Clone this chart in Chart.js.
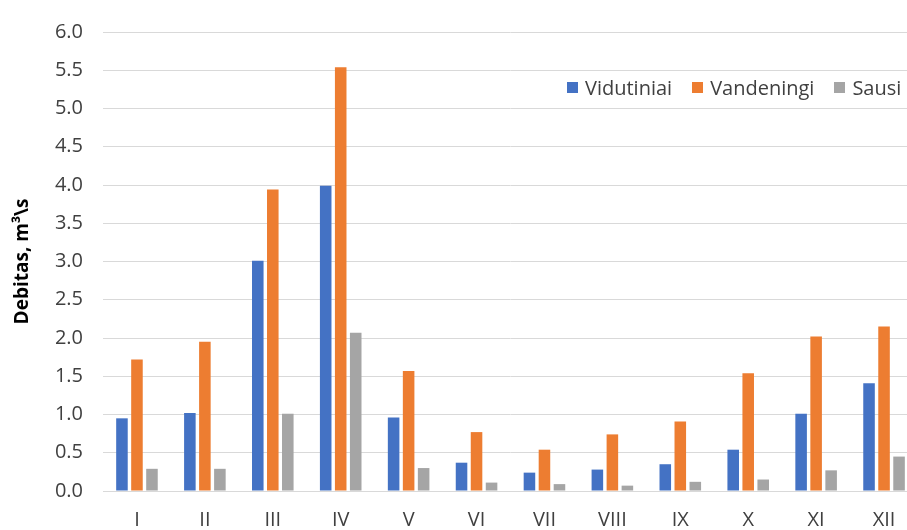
<!DOCTYPE html>
<html>
<head>
<meta charset="utf-8">
<script src="https://cdn.jsdelivr.net/npm/chart.js@4"></script>
<style>
  html, body { margin: 0; padding: 0; background: #fff; overflow: hidden; }
  .wrap { position: relative; width: 918px; height: 530px; }
  .legend { position: absolute; left: 567px; top: 74px; display: flex; align-items: center;
    font-family: "Open Sans", sans-serif; font-size: 20px; line-height: 27px; color: #404040; }
  .legend span.item { display: flex; align-items: center; margin-right: 20px; }
  .legend span.box { width: 11px; height: 11px; margin-right: 7px; display: inline-block; }
</style>
</head>
<body>
<div class="wrap">
  <canvas id="chart" width="918" height="530"></canvas>
  <div class="legend" id="legend"></div>
</div>
<script>
const months = ['I', 'II', 'III', 'IV', 'V', 'VI', 'VII', 'VIII', 'IX', 'X', 'XI', 'XII'];
const seriesNames = ['Vidutiniai', 'Vandeningi', 'Sausi'];
const seriesColors = ['#4472C4', '#ED7D31', '#A5A5A5'];
const vidutiniai = [0.95, 1.02, 3.01, 3.99, 0.96, 0.37, 0.24, 0.28, 0.35, 0.54, 1.01, 1.41];
const vandeningi = [1.72, 1.95, 3.94, 5.54, 1.57, 0.77, 0.54, 0.74, 0.91, 1.54, 2.02, 2.15];
const sausi = [0.29, 0.29, 1.01, 2.07, 0.30, 0.11, 0.09, 0.07, 0.12, 0.15, 0.27, 0.45];
const yTitle = 'Debitas, m³\\s';

const values = [vidutiniai, vandeningi, sausi];
const font = 'Open Sans';

const datasets = seriesNames.map((name, i) => ({
  label: name,
  data: values[i],
  backgroundColor: seriesColors[i],
  categoryPercentage: 0.663,
  barPercentage: 0.77
}));

// legend sits inside the plot area in the original, so it is plain html on top
const legendEl = document.getElementById('legend');
seriesNames.forEach((name, i) => {
  const item = document.createElement('span');
  item.className = 'item';
  const box = document.createElement('span');
  box.className = 'box';
  box.style.background = seriesColors[i];
  item.appendChild(box);
  item.appendChild(document.createTextNode(name));
  legendEl.appendChild(item);
});

const ctx = document.getElementById('chart').getContext('2d');
new Chart(ctx, {
  type: 'bar',
  data: { labels: months, datasets },
  options: {
    responsive: false,
    animation: false,
    layout: { padding: { top: 22, right: 0, bottom: 0, left: 0 } },
    plugins: {
      legend: { display: false },
      tooltip: { enabled: false }
    },
    scales: {
      x: {
        grid: { display: false, drawTicks: false },
        border: { display: true, color: '#d9d9d9', width: 1 },
        ticks: {
          color: '#404040',
          padding: 17,
          font: { family: font, size: 20 }
        },
        afterFit: (s) => { s.height = 39; }
      },
      y: {
        min: 0,
        max: 6,
        border: { display: false },
        grid: { color: '#d9d9d9', lineWidth: 1, drawTicks: false },
        ticks: {
          stepSize: 0.5,
          color: '#404040',
          padding: 20,
          font: { family: font, size: 20 },
          callback: (v) => v.toFixed(1)
        },
        title: {
          display: true,
          text: yTitle,
          color: '#000',
          font: { family: font, size: 19, weight: 'bold' },
          padding: { top: 11, bottom: 0 }
        },
        afterFit: (s) => { s.width = 103; }
      }
    }
  }
});
</script>
</body>
</html>
